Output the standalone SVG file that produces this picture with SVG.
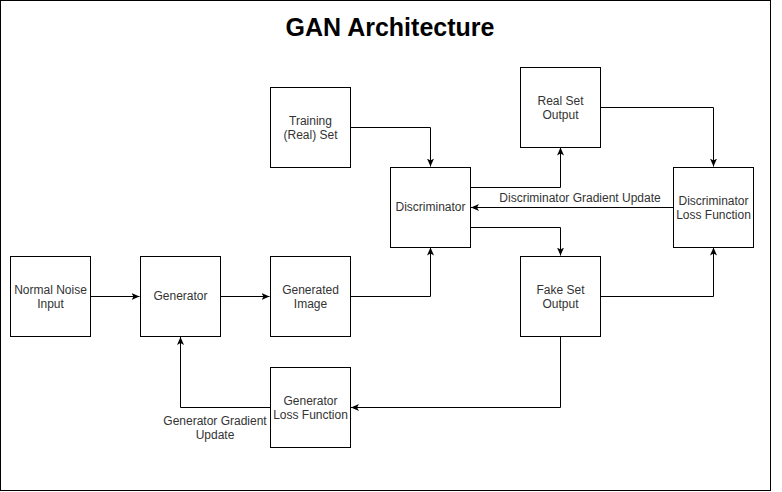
<svg xmlns="http://www.w3.org/2000/svg" width="782" height="492" viewBox="0 0 782 492">
<defs>
<style>
.box{fill:#fff;stroke:#000;stroke-width:1}
.t{font-family:"Liberation Sans",Arial,sans-serif;font-size:12px;fill:#333;text-anchor:middle}
.e{fill:none;stroke:#000;stroke-width:1;marker-end:url(#arr)}
</style>
<marker id="arr" markerUnits="userSpaceOnUse" viewBox="0 0 8 8" markerWidth="8" markerHeight="8" refX="8" refY="4" orient="auto">
<path d="M0,0.5 L8,4 L0,7.5 L2,4 z" fill="#000"/>
</marker>
</defs>
<rect x="0.5" y="0.5" width="770" height="490" fill="#fff" stroke="#000"/>
<text x="390" y="36" style="font-family:'Liberation Sans',Arial,sans-serif;font-size:25px;font-weight:bold;fill:#000;text-anchor:middle">GAN Architecture</text>
<g id="connectors">
<path class="e" d="M90.5,296.5 H139.5"/>
<path class="e" d="M220.5,296.5 H269.5"/>
<path class="e" d="M350.5,296.5 H430.5 V247.5"/>
<path class="e" d="M350.5,127.5 H430.5 V166.5"/>
<path class="e" d="M470.5,187.5 H560.5 V147.5"/>
<path class="e" d="M470.5,227.5 H560.5 V255.5"/>
<path class="e" d="M600.5,107.5 H713.5 V166.5"/>
<path class="e" d="M600.5,296.5 H713.5 V247.5"/>
<path class="e" d="M673.5,207.5 H471"/>
<path class="e" d="M560.5,336.5 V407.5 H351"/>
<path class="e" d="M270.5,407.5 H180.5 V337"/>
<text class="t" x="580" y="202">Discriminator Gradient Update</text>
<text class="t" x="215" y="425">Generator Gradient</text>
<text class="t" x="215" y="439">Update</text>
</g>
<g id="noise"><rect class="box" x="10.5" y="256.5" width="80" height="80"/><text class="t" x="50.5" y="294">Normal Noise</text><text class="t" x="50.5" y="308">Input</text></g>
<g id="generator"><rect class="box" x="140.5" y="256.5" width="80" height="80"/><text class="t" x="180.5" y="300">Generator</text></g>
<g id="generated"><rect class="box" x="270.5" y="256.5" width="80" height="80"/><text class="t" x="310.5" y="294">Generated</text><text class="t" x="310.5" y="308">Image</text></g>
<g id="training"><rect class="box" x="270.5" y="87.5" width="80" height="80"/><text class="t" x="310.5" y="125">Training</text><text class="t" x="310.5" y="139">(Real) Set</text></g>
<g id="discriminator"><rect class="box" x="390.5" y="167.5" width="80" height="80"/><text class="t" x="430.5" y="211">Discriminator</text></g>
<g id="realout"><rect class="box" x="520.5" y="67.5" width="80" height="80"/><text class="t" x="560.5" y="105">Real Set</text><text class="t" x="560.5" y="119">Output</text></g>
<g id="fakeout"><rect class="box" x="520.5" y="256.5" width="80" height="80"/><text class="t" x="560.5" y="294">Fake Set</text><text class="t" x="560.5" y="308">Output</text></g>
<g id="discloss"><rect class="box" x="673.5" y="167.5" width="80" height="80"/><text class="t" x="713.5" y="205">Discriminator</text><text class="t" x="713.5" y="219">Loss Function</text></g>
<g id="genloss"><rect class="box" x="270.5" y="367.5" width="80" height="80"/><text class="t" x="310.5" y="405">Generator</text><text class="t" x="310.5" y="419">Loss Function</text></g>
</svg>
